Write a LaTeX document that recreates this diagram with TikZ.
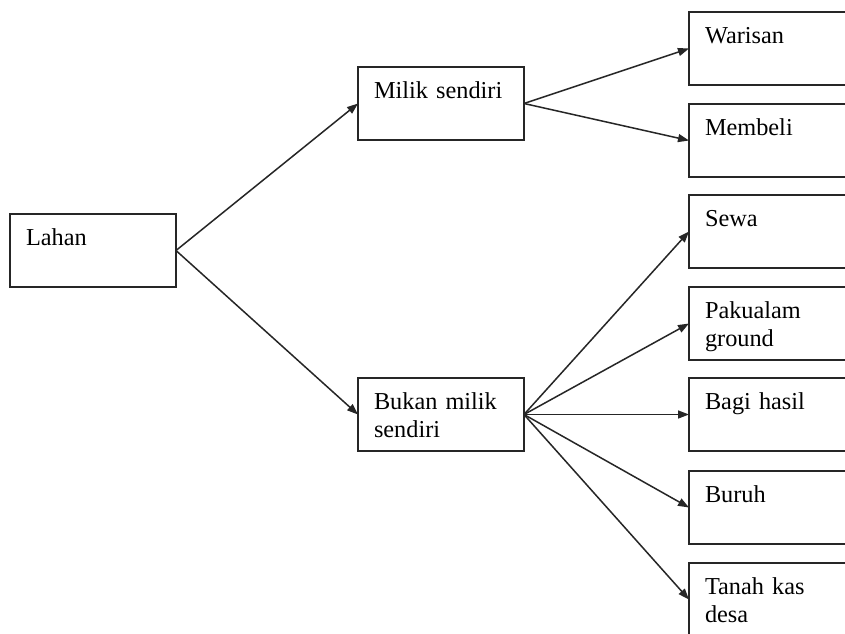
\documentclass[tikz,border=0pt]{standalone}
\usepackage{fontspec}
\setmainfont{Liberation Serif}
\usetikzlibrary{arrows.meta}
\begin{document}
\begin{tikzpicture}[x=1pt,y=-1pt,
  box/.style={draw=black!85, line width=1.6pt, anchor=north west,
    inner xsep=16pt, inner ysep=0pt, outer sep=0pt,
    text width=134pt, align=left,
    text height=31pt, text depth=42pt,
    font=\fontsize{24.3}{28}\selectfont},
  conn/.style={draw=black!85, line width=1.5pt, -{Triangle[length=11pt,width=8pt]}}]
\clip (0,0) rectangle (845,633);
\fill[white] (0,0) rectangle (845,633);
\node[box] (lahan) at (10,214) {Lahan};
\node[box] (milik) at (358,67) {Milik sendiri};
\node[box] (bukan) at (358,378) {Bukan milik\\sendiri};
\node[box] (warisan) at (689,12) {Warisan};
\node[box] (membeli) at (689,104) {Membeli};
\node[box] (sewa) at (689,195) {Sewa};
\node[box] (paku) at (689,287) {Pakualam\\ground};
\node[box] (bagi) at (689,378) {Bagi hasil};
\node[box] (buruh) at (689,471) {Buruh};
\node[box] (tanah) at (689,563) {Tanah kas\\desa};
\draw[conn] (lahan.east) -- (milik.west);
\draw[conn] (lahan.east) -- (bukan.west);
\draw[conn] (milik.east) -- (warisan.west);
\draw[conn] (milik.east) -- (membeli.west);
\draw[conn] (bukan.east) -- (sewa.west);
\draw[conn] (bukan.east) -- (paku.west);
\draw[conn] (bukan.east) -- (bagi.west);
\draw[conn] (bukan.east) -- (buruh.west);
\draw[conn] (bukan.east) -- (tanah.west);
\end{tikzpicture}
\end{document}
